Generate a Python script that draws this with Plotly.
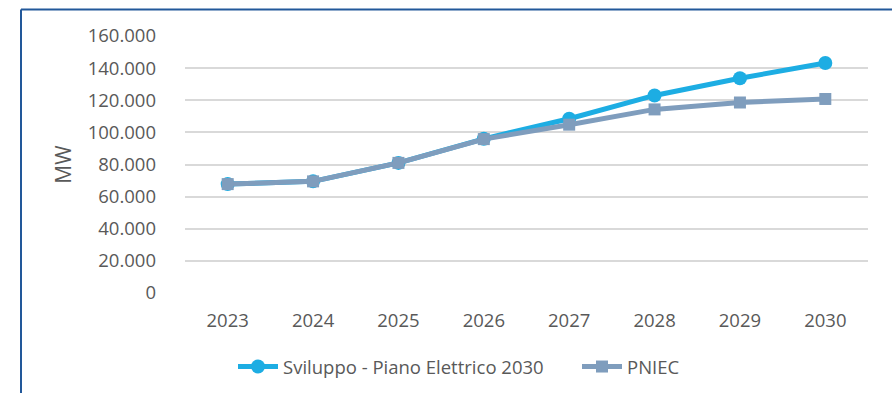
import plotly.graph_objects as go

years = ["2023", "2024", "2025", "2026", "2027", "2028", "2029", "2030"]
sviluppo = [67800, 69500, 81000, 96000, 108500, 123000, 133700, 143200]
pniec = [67800, 69500, 81000, 95800, 104800, 114300, 118600, 120800]
yticks = [0, 20000, 40000, 60000, 80000, 100000, 120000, 140000, 160000]
ytick_text = ["0", "20.000", "40.000", "60.000", "80.000", "100.000", "120.000", "140.000", "160.000"]

W, H = 892, 393
ML, MR, MT, MB = 185, 24, 36, 100
pw, ph = W - ML - MR, H - MT - MB

fig = go.Figure()
fig.add_trace(go.Scatter(
    x=years, y=sviluppo, name="Sviluppo - Piano Elettrico 2030",
    mode="lines+markers",
    line=dict(color="#1DADE3", width=5),
    marker=dict(symbol="circle", size=14, color="#1DADE3"),
    legend="legend",
))
fig.add_trace(go.Scatter(
    x=years, y=pniec, name="PNIEC",
    mode="lines+markers",
    line=dict(color="#7F9DBD", width=5),
    marker=dict(symbol="square", size=12, color="#7F9DBD"),
    legend="legend2",
))

FS = 18.5
font = dict(family="Open Sans", size=FS, color="#595959")
legfont = dict(family="Open Sans", size=FS, color="#595959")
ly = (H - MB - 367) / ph

fig.update_layout(
    width=W, height=H,
    margin=dict(l=ML, r=MR, t=MT, b=MB, autoexpand=False),
    paper_bgcolor="white", plot_bgcolor="white",
    font=font,
    showlegend=True,
    legend=dict(orientation="h", x=(233 - ML) / pw, xanchor="left",
                y=ly, yanchor="middle", xref="paper",
                font=legfont, itemwidth=40),
    legend2=dict(orientation="h", x=(577 - ML) / pw, xanchor="left",
                 y=ly, yanchor="middle", xref="paper",
                 font=legfont, itemwidth=40),
    xaxis=dict(type="category", range=[-0.5, 7.5], showgrid=False,
               showline=False, zeroline=False, ticks="",
               ticklabelstandoff=14,
               tickfont=dict(family="Open Sans", size=FS, color="#595959")),
    yaxis=dict(range=[0, 160000], tickvals=yticks, ticktext=ytick_text,
               showgrid=True, gridcolor="#D9D9D9", gridwidth=2,
               zeroline=False, showline=False, ticks="",
               ticklabelstandoff=28,
               tickfont=dict(family="Open Sans", size=FS, color="#595959"),
               title=dict(text="MW",
                          font=dict(family="Open Sans", size=21, color="#595959"),
                          standoff=10)),
    shapes=[dict(type="line", xref="paper", yref="paper",
                 x0=(21 - ML) / pw, x1=(21 - ML) / pw,
                 y0=(H - MB - 400) / ph, y1=(H - MB - 9.5) / ph,
                 line=dict(color="#22589A", width=2)),
            dict(type="line", xref="paper", yref="paper",
                 x0=(21 - ML) / pw, x1=(900 - ML) / pw,
                 y0=(H - MB - 9.5) / ph, y1=(H - MB - 9.5) / ph,
                 line=dict(color="#22589A", width=2))],
)

fig.write_html("out.html")
